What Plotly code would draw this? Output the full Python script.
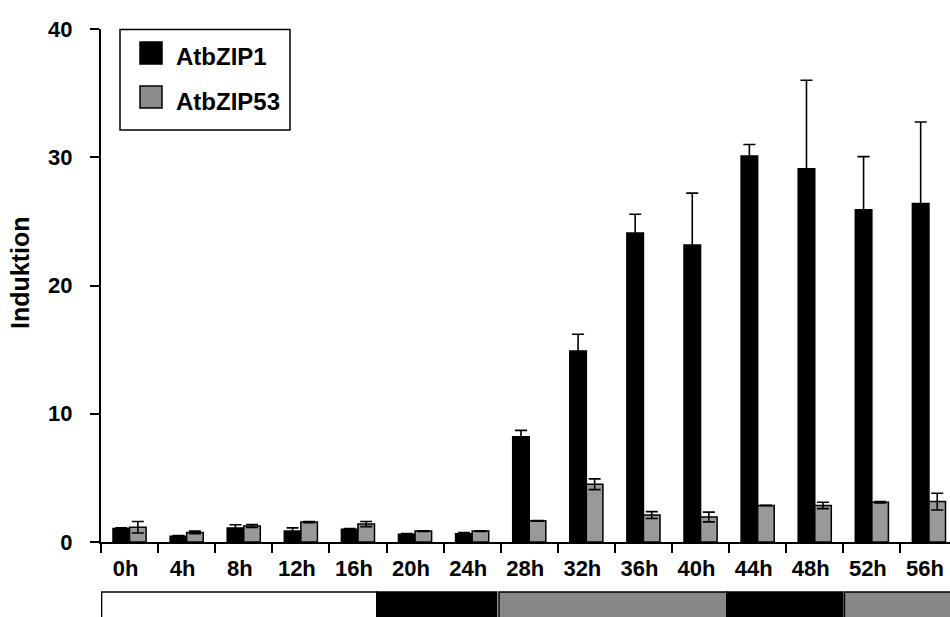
import plotly.graph_objects as go

# Time points and induction values (mean and error) for both genes
times = ["0h", "4h", "8h", "12h", "16h", "20h", "24h", "28h",
         "32h", "36h", "40h", "44h", "48h", "52h", "56h"]
atbzip1 = [1.05, 0.45, 1.1, 0.85, 1.0, 0.6, 0.65, 8.2,
           14.9, 24.1, 23.15, 30.1, 29.1, 25.9, 26.4]
atbzip1_err = [0.05, 0.05, 0.25, 0.25, 0.05, 0.05, 0.08, 0.5,
               1.3, 1.45, 4.05, 0.9, 6.9, 4.15, 6.35]
atbzip53 = [1.15, 0.75, 1.25, 1.55, 1.4, 0.85, 0.85, 1.65,
            4.5, 2.1, 1.95, 2.85, 2.85, 3.1, 3.15]
atbzip53_err = [0.45, 0.1, 0.12, 0.05, 0.2, 0.03, 0.03, 0.03,
                0.42, 0.27, 0.38, 0.02, 0.25, 0.05, 0.65]

# Light regime strip under the axis: (start, end) in category units and fill
phase_starts = [-0.49, 4.33, 6.47, 10.46, 12.52]
phase_ends = [4.33, 6.43, 10.46, 12.49, 16.0]
phase_colors = ["white", "black", "#888888", "black", "#888888"]

W, H = 950, 617
ML, MR, MT, MB = 101, 0, 29, 75
PW, PH = W - ML - MR, H - MT - MB
CAT_W = 57.1

FONT = "Liberation Sans, Arial, sans-serif"


def px_x(px):
    return (px - ML) / PW


def px_y(py):
    return (H - MB - py) / PH


fig = go.Figure()
fig.add_trace(go.Bar(
    x=times, y=atbzip1, name="AtbZIP1",
    marker=dict(color="black", line=dict(color="black", width=1.5)),
    error_y=dict(type="data", array=atbzip1_err, color="black",
                 thickness=1.6, width=6),
))
fig.add_trace(go.Bar(
    x=times, y=atbzip53, name="AtbZIP53",
    marker=dict(color="#999999", line=dict(color="black", width=1.5)),
    error_y=dict(type="data", array=atbzip53_err, color="black",
                 thickness=1.6, width=6),
))

shapes = []
for x0, x1, c in zip(phase_starts, phase_ends, phase_colors):
    shapes.append(dict(type="rect", xref="x", yref="paper",
                       x0=x0, x1=x1, y0=px_y(592), y1=px_y(640),
                       fillcolor=c, line=dict(color="black", width=1.5),
                       layer="above"))

# Legend box drawn by hand
shapes.append(dict(type="rect", xref="paper", yref="paper",
                   x0=px_x(120), x1=px_x(290), y0=px_y(130), y1=px_y(29.5),
                   fillcolor="white", line=dict(color="black", width=1.5)))
shapes.append(dict(type="rect", xref="paper", yref="paper",
                   x0=px_x(140), x1=px_x(162), y0=px_y(64), y1=px_y(42),
                   fillcolor="black", line=dict(color="black", width=1.5)))
shapes.append(dict(type="rect", xref="paper", yref="paper",
                   x0=px_x(140), x1=px_x(162), y0=px_y(108), y1=px_y(86),
                   fillcolor="#8c8c8c", line=dict(color="black", width=1.5)))

annotations = [
    dict(text="<b>AtbZIP1</b>", xref="paper", yref="paper",
         x=px_x(174), y=px_y(56), xanchor="left", yanchor="middle",
         showarrow=False, font=dict(family=FONT, size=24, color="black")),
    dict(text="<b>AtbZIP53</b>", xref="paper", yref="paper",
         x=px_x(174), y=px_y(101), xanchor="left", yanchor="middle",
         showarrow=False, font=dict(family=FONT, size=24, color="black")),
    dict(text="<b>Induktion</b>", xref="paper", yref="paper",
         x=px_x(20), y=px_y(273), xanchor="center", yanchor="middle",
         textangle=-90, showarrow=False,
         font=dict(family=FONT, size=25, color="black")),
]

fig.update_layout(
    width=W, height=H,
    margin=dict(l=ML, r=MR, t=MT, b=MB, pad=0),
    paper_bgcolor="white", plot_bgcolor="white",
    barmode="group", bargap=0.42, bargroupgap=0,
    showlegend=False,
    shapes=shapes, annotations=annotations,
    font=dict(family=FONT, color="black"),
)
fig.update_xaxes(
    range=[-0.5, -0.5 + PW / CAT_W],
    showline=True, linecolor="black", linewidth=2,
    ticks="outside", tickson="boundaries", ticklen=9, tickwidth=2,
    tickcolor="black", showgrid=False, zeroline=False,
    tickfont=dict(family=FONT, size=22, color="black", weight="bold"),
    ticklabelshift=-4, ticklabelstandoff=6,
)
fig.update_yaxes(
    range=[0, 40], dtick=10,
    showline=True, linecolor="black", linewidth=2,
    ticks="outside", ticklen=9, tickwidth=2, tickcolor="black",
    showgrid=False, zeroline=False,
    tickfont=dict(family=FONT, size=22, color="black", weight="bold"),
    ticklabelstandoff=13,
)

fig.write_html("out.html")
